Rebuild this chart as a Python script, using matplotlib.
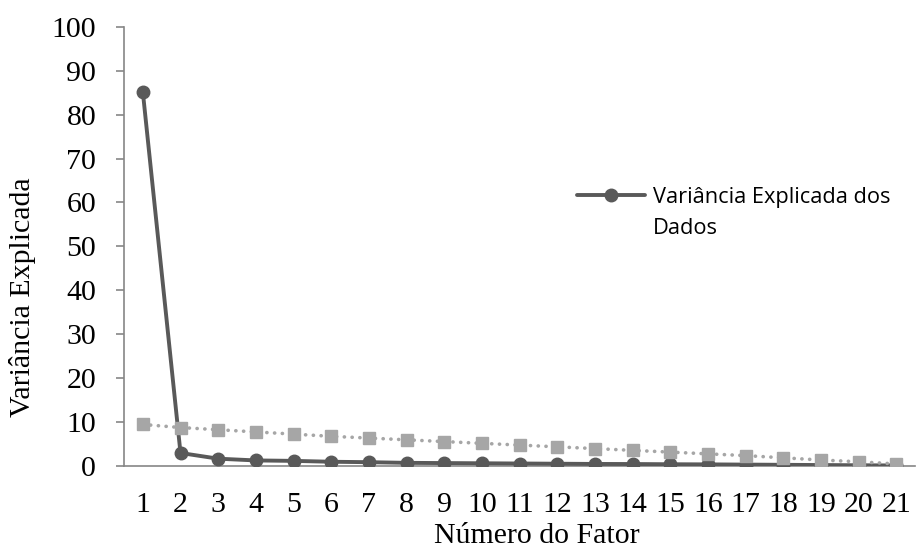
"""
Scree plot: explained variance per factor vs. reference curve.
"""

import matplotlib
matplotlib.use("Agg")
import matplotlib.pyplot as plt

# ---- data ---------------------------------------------------------------
factors = list(range(1, 22))
tick_labels = [str(f) for f in factors]

variance_data = [85.2, 2.9, 1.6, 1.2, 1.1, 0.9, 0.8, 0.65, 0.6, 0.55, 0.5,
                 0.45, 0.4, 0.38, 0.33, 0.3, 0.25, 0.2, 0.15, 0.1, 0.05]
variance_ref = [9.4, 8.7, 8.2, 7.7, 7.2, 6.7, 6.3, 5.9, 5.5, 5.1, 4.7,
                4.3, 3.9, 3.5, 3.1, 2.7, 2.3, 1.8, 1.3, 0.9, 0.4]

legend_lines = ["Variância Explicada dos", "Dados"]
y_ticks = list(range(0, 101, 10))

DARK  = "#595959"
LIGHT = "#A6A6A6"
AXIS  = "#868686"
SERIF = "Liberation Serif"
SANS  = "Open Sans"


def plot_scree(path="out.png"):
    fig = plt.figure(figsize=(9.16, 5.5), dpi=100)
    fig.patch.set_facecolor("#ffffff")
    ax = fig.add_axes([124 / 916, 1 - 465.7 / 550, 791 / 916, 438.7 / 550])

    # data series
    ax.plot(factors, variance_data, "-o", color=DARK, linewidth=2.8,
            markersize=9, solid_capstyle="round", zorder=3,
            label=legend_lines[0])
    ax.plot(factors, variance_ref, color=LIGHT, linewidth=2.6,
            linestyle=(0, (0.05, 2.1)), dash_capstyle="round",
            marker="s", markersize=8.5, zorder=4, label="_nolegend_")

    ax.set_xlim(0.5, 21.5)
    ax.set_ylim(0, 100)
    ax.set_xticks(factors)
    ax.set_xticklabels(tick_labels)
    ax.set_yticks(y_ticks)

    for sp in ["top", "right"]:
        ax.spines[sp].set_visible(False)
    for sp in ["left", "bottom"]:
        ax.spines[sp].set_color(AXIS)
        ax.spines[sp].set_linewidth(1.2)
        ax.spines[sp].set_zorder(1)

    ax.tick_params(axis="y", direction="out", length=6, width=1.2,
                   color=AXIS, pad=14)
    ax.tick_params(axis="x", length=0, pad=19)
    for lbl in ax.get_xticklabels() + ax.get_yticklabels():
        lbl.set_fontfamily(SERIF)
        lbl.set_fontsize(21.5)
        lbl.set_color("#000000")

    fig.text(536.5 / 916, 1 - 543 / 550, "Número do Fator", ha="center",
             va="baseline", fontsize=21.5, family=SERIF)
    fig.text(23 / 916, 1 - 297 / 550, "Variância Explicada", ha="center",
             va="center", rotation=90, fontsize=21.5, family=SERIF)

    # legend: handle sits on the first line, label wraps onto a second line
    leg = ax.legend(loc="center left",
                    bbox_to_anchor=(577 / 916, 1 - 197 / 550),
                    bbox_transform=fig.transFigure, frameon=False,
                    prop={"family": SANS, "size": 15.7},
                    handlelength=3.1, handletextpad=0.4, borderpad=0,
                    borderaxespad=0)
    fig.canvas.draw()
    x0 = leg.get_texts()[0].get_window_extent().x0
    fig.text(x0 / 916, 1 - 234 / 550, legend_lines[1], ha="left",
             va="baseline", fontsize=15.7, family=SANS)

    plt.savefig(path, dpi=100)
    plt.close()


if __name__ == "__main__":
    plot_scree()
